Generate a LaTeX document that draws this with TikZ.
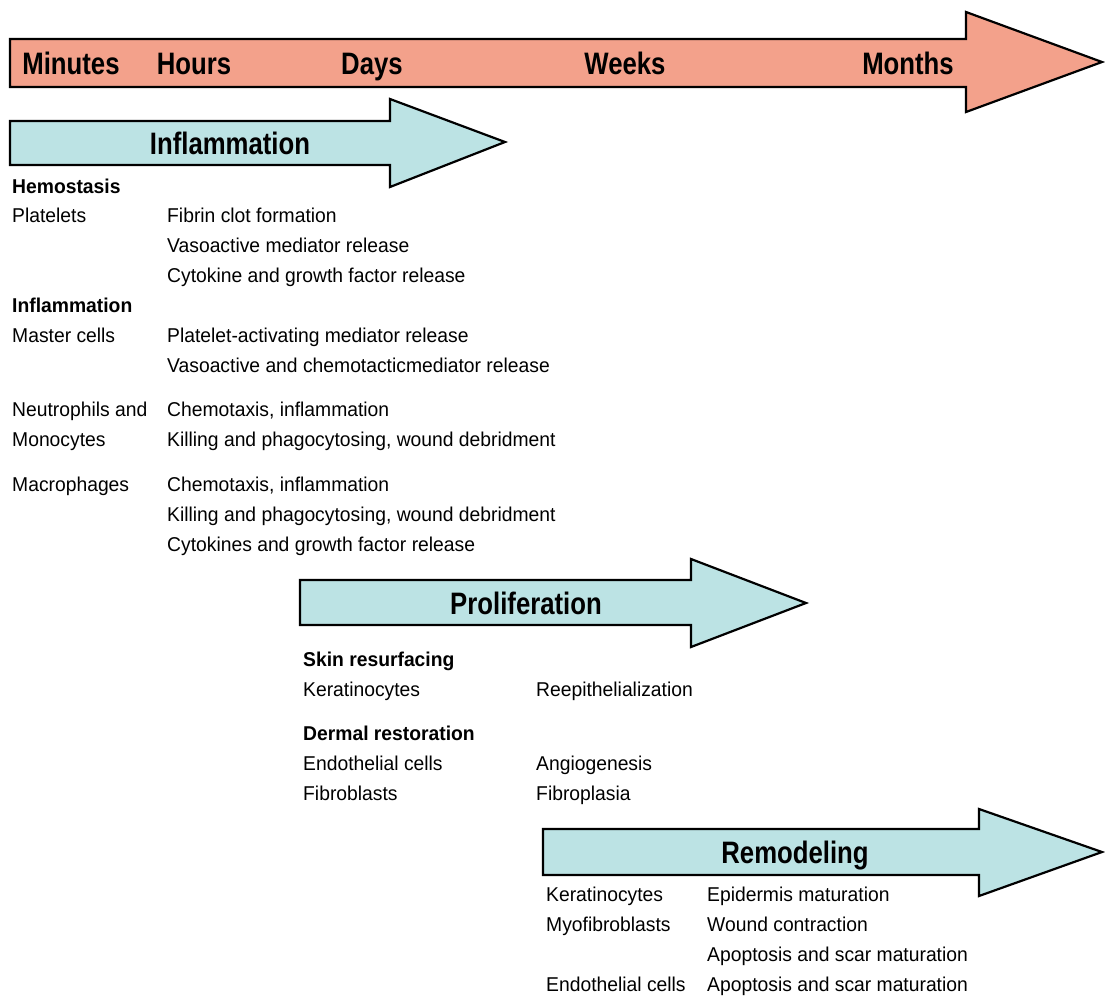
\documentclass[tikz,border=0pt]{standalone}
\usepackage{fontspec}
\setmainfont{Liberation Sans}
\newfontfamily\headfont[FakeStretch=0.83]{Liberation Sans}
\newfontfamily\bodyfont[FakeStretch=0.965]{Liberation Sans}
\usepackage{tikz}
\usetikzlibrary{positioning}
\definecolor{timesalmon}{RGB}{243, 161, 139}
\definecolor{phasecyan}{RGB}{188, 227, 228}

\tikzset{
  timearrow/.style={draw=black, line width=2.2pt, fill=timesalmon, line join=miter},
  phasearrow/.style={draw=black, line width=2.2pt, fill=phasecyan, line join=miter},
  bigtext/.style={font=\headfont\bfseries\fontsize{31}{36}\selectfont, inner sep=0pt, anchor=base},
  grouptext/.style={font=\bodyfont\bfseries\fontsize{20}{24}\selectfont, inner sep=0pt, anchor=base west},
  celltext/.style={font=\bodyfont\fontsize{20}{24}\selectfont, inner sep=0pt, anchor=base west}
}

\begin{document}
\begin{tikzpicture}[x=1pt, y=-1pt]
  \useasboundingbox (0,0) rectangle (1105,999);

  % Time axis
  \draw[timearrow] (10,39) -- (966,39) -- (966,12) -- (1102,62) -- (966,112) -- (966,87) -- (10,87) -- cycle;
  \node[bigtext] (minutes) at (71,74) {Minutes};
  \node[bigtext] (hours) at (194,74) {Hours};
  \node[bigtext] (days) at (372,74) {Days};
  \node[bigtext] (weeks) at (625,74) {Weeks};
  \node[bigtext] (months) at (908,74) {Months};

  % Inflammation phase
  \draw[phasearrow] (10,121) -- (390,121) -- (390,99) -- (505,142) -- (390,187) -- (390,165) -- (10,165) -- cycle;
  \node[bigtext] (inflammation) at (230,154) {Inflammation};

  \node[grouptext] (hemostasis) at (12,193) {Hemostasis};
  \node[celltext] (platelets) at (12,222) {Platelets};
  \node[celltext] (fibrin) at (167,222) {Fibrin clot formation};
  \node[celltext] (vasorel) at (167,252) {Vasoactive mediator release};
  \node[celltext] (cytorel) at (167,282) {Cytokine and growth factor release};

  \node[grouptext] (inflgroup) at (12,312) {Inflammation};
  \node[celltext] (master) at (12,342) {Master cells};
  \node[celltext] (pafrel) at (167,342) {Platelet-activating mediator release};
  \node[celltext] (chemorel) at (167,372) {Vasoactive and chemotacticmediator release};

  \node[celltext] (neutro) at (12,416) {Neutrophils and};
  \node[celltext] (neutrochemo) at (167,416) {Chemotaxis, inflammation};
  \node[celltext] (monocytes) at (12,446) {Monocytes};
  \node[celltext] (killing1) at (167,446) {Killing and phagocytosing, wound debridment};

  \node[celltext] (macro) at (12,491) {Macrophages};
  \node[celltext] (macrochemo) at (167,491) {Chemotaxis, inflammation};
  \node[celltext] (killing2) at (167,521) {Killing and phagocytosing, wound debridment};
  \node[celltext] (cytokines) at (167,551) {Cytokines and growth factor release};

  % Proliferation phase
  \draw[phasearrow] (300,580) -- (691,580) -- (691,559) -- (806,603) -- (691,647) -- (691,625) -- (300,625) -- cycle;
  \node[bigtext] (proliferation) at (526,614) {Proliferation};

  \node[grouptext] (skin) at (303,666) {Skin resurfacing};
  \node[celltext] (kerat1) at (303,696) {Keratinocytes};
  \node[celltext] (reepi) at (536,696) {Reepithelialization};

  \node[grouptext] (dermal) at (303,740) {Dermal restoration};
  \node[celltext] (endo1) at (303,770) {Endothelial cells};
  \node[celltext] (angio) at (536,770) {Angiogenesis};
  \node[celltext] (fibro) at (303,800) {Fibroblasts};
  \node[celltext] (fibroplasia) at (536,800) {Fibroplasia};

  % Remodeling phase
  \draw[phasearrow] (543,829) -- (979,829) -- (979,809) -- (1102,852) -- (979,896) -- (979,875) -- (543,875) -- cycle;
  \node[bigtext] (remodeling) at (795,863) {Remodeling};

  \node[celltext] (kerat2) at (546,901) {Keratinocytes};
  \node[celltext] (epimat) at (707,901) {Epidermis maturation};
  \node[celltext] (myofib) at (546,931) {Myofibroblasts};
  \node[celltext] (woundcon) at (707,931) {Wound contraction};
  \node[celltext] (apop1) at (707,961) {Apoptosis and scar maturation};
  \node[celltext] (endo2) at (546,991) {Endothelial cells};
  \node[celltext] (apop2) at (707,991) {Apoptosis and scar maturation};
\end{tikzpicture}
\end{document}
